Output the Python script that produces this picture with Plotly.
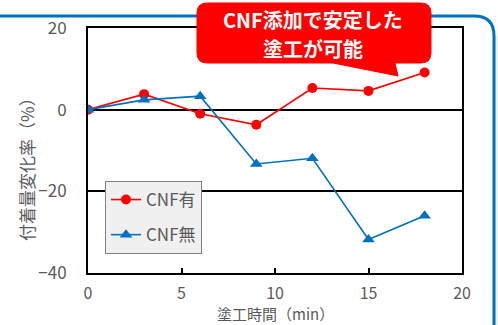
import plotly.graph_objects as go

time_min = [0, 3, 6, 9, 12, 15, 18]
cnf_with = [0, 3.8, -1.0, -3.7, 5.3, 4.6, 9.1]
cnf_without = [0, 2.4, 3.3, -13.3, -11.9, -31.8, -26.0]
y_ticks = [20, 0, -20, -40]
x_ticks = [0, 5, 10, 15, 20]
callout_lines = ["CNF添加で安定した", "塗工が可能"]

W, H = 498, 325
L, R, T, B = 88, 36, 28, 52
PW, PH = W - L - R, H - T - B
FONT = "Noto Sans CJK JP"
GRAY = "#595959"


def px(x):
    return (x - L) / PW


def py(y):
    return (H - B - y) / PH


fig = go.Figure()
fig.add_trace(go.Scatter(
    x=time_min, y=cnf_with, name="CNF有", mode="lines+markers",
    line=dict(color="#FF0000", width=1.6),
    marker=dict(symbol="circle", size=10, color="#FF0000"),
    legendgroup="a"))
fig.add_trace(go.Scatter(
    x=time_min, y=cnf_without, name="CNF無", mode="lines+markers",
    line=dict(color="#0070C0", width=1.6),
    marker=dict(symbol="triangle-up", size=11, color="#0070C0"),
    legendgroup="b"))

# blue slide frame (top line with rounded corner)
r = 20
frame = (f"M {px(-5)},{py(16)} L {px(494 - r)},{py(16)} "
         f"Q {px(494)},{py(16)} {px(494)},{py(16 + r)} L {px(494)},{py(330)}")
# callout bubble
x0, x1, y0, y1, cr = 197, 431, 3, 63, 10
bubble = (f"M {px(x0 + cr)},{py(y0)} L {px(x1 - cr)},{py(y0)} "
          f"Q {px(x1)},{py(y0)} {px(x1)},{py(y0 + cr)} "
          f"L {px(x1)},{py(y1 - cr)} Q {px(x1)},{py(y1)} {px(x1 - cr)},{py(y1)} "
          f"L {px(395)},{py(y1)} L {px(398)},{py(76)} L {px(333)},{py(y1)} "
          f"L {px(x0 + cr)},{py(y1)} Q {px(x0)},{py(y1)} {px(x0)},{py(y1 - cr)} "
          f"L {px(x0)},{py(y0 + cr)} Q {px(x0)},{py(y0)} {px(x0 + cr)},{py(y0)} Z")

annotations = []
for txt, yc in zip(callout_lines, [19, 48]):
    annotations.append(dict(
        text=txt, xref="paper", yref="paper", x=px(313), y=py(yc),
        xanchor="center", yanchor="middle", showarrow=False,
        font=dict(family=FONT, size=20, color="white", weight="bold")))
annotations += [
    dict(text="付着量変化率（%）", xref="paper", yref="paper",
         x=px(26), y=py(165), xanchor="center", yanchor="middle",
         textangle=-90, showarrow=False,
         font=dict(family=FONT, size=17, color=GRAY)),
    dict(text="塗工時間（min）", xref="paper", yref="paper",
         x=px(275), y=py(313), xanchor="center", yanchor="middle",
         showarrow=False,
         font=dict(family=FONT, size=15, color=GRAY)),
]

fig.update_layout(
    width=W, height=H,
    margin=dict(l=L, r=R, t=T, b=B),
    paper_bgcolor="white", plot_bgcolor="white",
    font=dict(family=FONT, color=GRAY, size=16),
    showlegend=True,
    legend=dict(
        x=px(105), y=py(181), xanchor="left", yanchor="top",
        bgcolor="#F0F0F0", bordercolor="#808080", borderwidth=1,
        font=dict(family=FONT, size=17, color=GRAY),
        traceorder="grouped", tracegroupgap=10,
        itemwidth=30,
    ),
    xaxis=dict(
        range=[0, 20], tickvals=x_ticks, ticks="inside", ticklen=5,
        tickcolor="black", tickwidth=1.5, showgrid=False, zeroline=False,
        showline=True, linecolor="black", linewidth=2, mirror=True,
        tickfont=dict(size=16, color=GRAY), ticklabelstandoff=5,
    ),
    yaxis=dict(
        range=[-40, 20], tickvals=y_ticks, ticks="", showgrid=True,
        gridcolor="black", gridwidth=1.5, zeroline=True,
        zerolinecolor="black", zerolinewidth=1.5,
        showline=True, linecolor="black", linewidth=2, mirror=True,
        tickfont=dict(size=17, color=GRAY), ticklabelstandoff=16,
    ),
    shapes=[
        dict(type="rect", xref="paper", yref="paper", x0=px(495), x1=px(500),
             y0=py(330), y1=py(16 + r), fillcolor="#EEF2F6", line_width=0,
             layer="below"),
        dict(type="path", xref="paper", yref="paper", path=frame,
             line=dict(color="#0070C0", width=3), layer="below"),
        dict(type="path", xref="paper", yref="paper", path=bubble,
             fillcolor="#FF0000", line=dict(color="#FF0000", width=1)),
    ],
    annotations=annotations,
)

fig.write_html("out.html")
